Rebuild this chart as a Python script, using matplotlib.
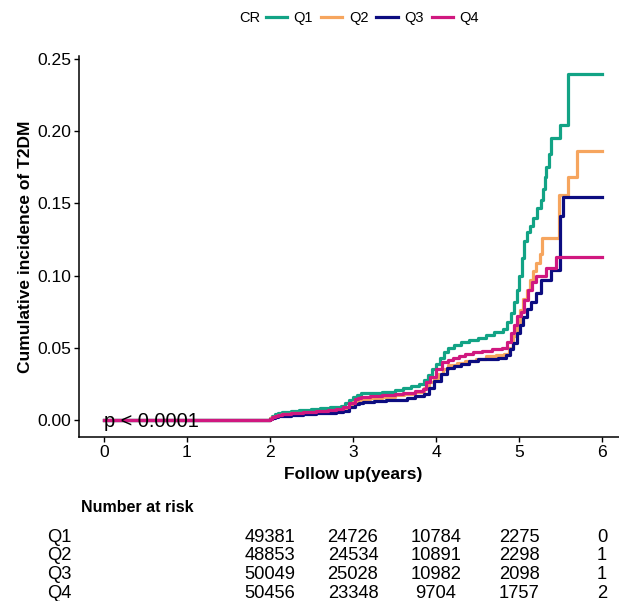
import matplotlib
matplotlib.use('Agg')
import matplotlib.pyplot as plt
from matplotlib.lines import Line2D
from matplotlib.transforms import blended_transform_factory

plt.rcParams['font.family'] = ['Liberation Sans', 'DejaVu Sans']

groups = ['Q1', 'Q2', 'Q3', 'Q4']
colors = ['#12A385', '#F6A55E', '#0C0C80', '#D0187F']

q1_time = [0, 2.00, 2.03, 2.06, 2.10, 2.15, 2.25, 2.35, 2.50, 2.60, 2.72, 2.85, 2.90, 2.95, 3.00,
           3.05, 3.10, 3.20, 3.35, 3.50, 3.60, 3.70, 3.80, 3.86, 3.90, 3.95, 4.00, 4.05, 4.10,
           4.15, 4.22, 4.30, 4.40, 4.50, 4.60, 4.70, 4.81, 4.86, 4.90, 4.94, 4.97, 5.00, 5.03,
           5.06, 5.09, 5.13, 5.17, 5.22, 5.26, 5.29, 5.31, 5.33, 5.36, 5.38, 5.49, 5.59, 6.00]
q1_cuminc = [0, 0.0015, 0.003, 0.004, 0.0048, 0.0055, 0.006, 0.0068, 0.0075, 0.008, 0.009, 0.010,
             0.012, 0.014, 0.016, 0.0175, 0.0185, 0.019, 0.0195, 0.021, 0.022, 0.0235, 0.025,
             0.028, 0.031, 0.035, 0.039, 0.043, 0.047, 0.050, 0.052, 0.054, 0.0555, 0.057,
             0.059, 0.061, 0.063, 0.068, 0.074, 0.082, 0.090, 0.100, 0.112, 0.124, 0.130, 0.134,
             0.140, 0.147, 0.152, 0.160, 0.168, 0.175, 0.184, 0.195, 0.204, 0.2396, 0.2396]

q2_time = [0, 2.00, 2.03, 2.06, 2.10, 2.15, 2.25, 2.40, 2.55, 2.70, 2.80, 2.88, 2.95, 3.00, 3.05,
           3.10, 3.20, 3.35, 3.50, 3.62, 3.75, 3.85, 3.92, 3.97, 4.02, 4.08, 4.15, 4.25, 4.35,
           4.48, 4.60, 4.72, 4.82, 4.88, 4.93, 4.97, 5.01, 5.05, 5.09, 5.13, 5.17, 5.21, 5.25,
           5.28, 5.48, 5.59, 5.70, 6.00]
q2_cuminc = [0, 0.0012, 0.002, 0.003, 0.0035, 0.004, 0.0045, 0.005, 0.0058, 0.0065, 0.007,
             0.008, 0.011, 0.0125, 0.0135, 0.0145, 0.015, 0.016, 0.017, 0.018, 0.0195, 0.022,
             0.026, 0.029, 0.032, 0.035, 0.038, 0.0395, 0.041, 0.0425, 0.044, 0.045, 0.046,
             0.050, 0.058, 0.066, 0.076, 0.084, 0.090, 0.097, 0.103, 0.109, 0.115, 0.126, 0.156,
             0.1685, 0.1865, 0.1865]

q3_time = [0, 2.00, 2.03, 2.06, 2.10, 2.15, 2.25, 2.40, 2.55, 2.70, 2.80, 2.88, 2.95, 3.02, 3.07,
           3.12, 3.25, 3.40, 3.55, 3.65, 3.75, 3.85, 3.92, 3.98, 4.06, 4.13, 4.22, 4.30, 4.40,
           4.50, 4.62, 4.75, 4.84, 4.89, 4.93, 4.97, 5.01, 5.05, 5.10, 5.14, 5.20, 5.27, 5.39,
           5.49, 5.53, 6.00]
q3_cuminc = [0, 0.0008, 0.0015, 0.002, 0.0025, 0.003, 0.0035, 0.004, 0.0045, 0.005, 0.0055,
             0.0065, 0.009, 0.011, 0.012, 0.0125, 0.013, 0.0135, 0.014, 0.015, 0.0165, 0.018,
             0.022, 0.027, 0.032, 0.036, 0.0375, 0.039, 0.0405, 0.042, 0.0425, 0.043, 0.045,
             0.049, 0.053, 0.060, 0.066, 0.071, 0.077, 0.082, 0.088, 0.097, 0.104, 0.141,
             0.1547, 0.1547]

q4_time = [0, 2.00, 2.03, 2.06, 2.10, 2.15, 2.25, 2.40, 2.55, 2.70, 2.80, 2.88, 2.95, 3.02, 3.06,
           3.10, 3.20, 3.35, 3.50, 3.60, 3.75, 3.84, 3.88, 3.93, 4.00, 4.07, 4.14, 4.20, 4.28,
           4.35, 4.45, 4.55, 4.68, 4.80, 4.86, 4.90, 4.94, 4.98, 5.02, 5.06, 5.11, 5.16, 5.21,
           5.33, 5.45, 6.00]
q4_cuminc = [0, 0.001, 0.002, 0.003, 0.0035, 0.004, 0.0048, 0.0055, 0.006, 0.007, 0.0075, 0.009,
             0.012, 0.0145, 0.0155, 0.016, 0.0165, 0.017, 0.018, 0.0185, 0.020, 0.0215, 0.026,
             0.030, 0.035, 0.040, 0.0415, 0.043, 0.0445, 0.046, 0.047, 0.048, 0.049, 0.050,
             0.054, 0.060, 0.066, 0.072, 0.075, 0.083, 0.090, 0.0955, 0.100, 0.105, 0.1129,
             0.1129]

series_time = [q1_time, q2_time, q3_time, q4_time]
series_val = [q1_cuminc, q2_cuminc, q3_cuminc, q4_cuminc]

risk_times = [2, 3, 4, 5, 6]
risk_q1 = [49381, 24726, 10784, 2275, 0]
risk_q2 = [48853, 24534, 10891, 2298, 1]
risk_q3 = [50049, 25028, 10982, 2098, 1]
risk_q4 = [50456, 23348, 9704, 1757, 2]
risk_rows = [risk_q1, risk_q2, risk_q3, risk_q4]

x_ticks = [0, 1, 2, 3, 4, 5, 6]
y_ticks = [0.00, 0.05, 0.10, 0.15, 0.20, 0.25]

W, H = 619, 601
fig = plt.figure(figsize=(W / 100, H / 100), dpi=100)
ax = fig.add_axes([79 / W, (H - 437) / H, (627 - 79) / W, (437 - 56) / H])

handles = []
for t, v, c, g in zip(series_time, series_val, colors, groups):
    ax.step(t, v, where='post', color=c, lw=2.3, label=g)
    handles.append(Line2D([], [], color=c, lw=2.3))

ax.set_xlim(-0.3, 6.3)
ax.set_ylim(-0.0118, 0.252)
ax.set_xticks(x_ticks)
ax.set_xticklabels([str(x) for x in x_ticks])
ax.set_yticks(y_ticks)
ax.set_yticklabels(['%.2f' % y for y in y_ticks])
for s in ['top', 'right']:
    ax.spines[s].set_visible(False)
for s in ['left', 'bottom']:
    ax.spines[s].set_linewidth(1.1)
    ax.spines[s].set_color('black')
ax.tick_params(axis='both', length=3.8, width=1.0, color='black', labelsize=12.6,
               labelcolor='black', pad=2)

ax.set_xlabel('Follow up(years)', fontsize=12.5, fontweight='bold', labelpad=5)
ax.set_ylabel('Cumulative incidence of T2DM', fontsize=12.5, fontweight='bold', labelpad=3)

ax.text(0, 0, 'p < 0.0001', fontsize=14.4, ha='left', va='center_baseline', zorder=10)

# legend
ly = 1 - 18 / H
fig.legend(handles, groups, loc='center left', bbox_to_anchor=(266 / W, ly), ncol=4,
           frameon=False, fontsize=10.5, handlelength=1.45, handletextpad=0.45,
           columnspacing=0.55, borderpad=0, borderaxespad=0)
fig.text(260 / W, ly, 'CR', ha='right', va='center', fontsize=10.5)

# risk table
fig.text(81 / W, 1 - 507 / H, 'Number at risk', fontsize=11.5, fontweight='bold',
         ha='left', va='center')
trans = blended_transform_factory(ax.transData, fig.transFigure)
row_y = [537, 555.7, 574.3, 593]
for g, row, yy in zip(groups, risk_rows, row_y):
    fig.text(47 / W, 1 - yy / H, g, fontsize=13.2, ha='left', va='center')
    for t, n in zip(risk_times, row):
        ax.text(t, 1 - yy / H, str(n), transform=trans, fontsize=13.2, ha='center',
                va='center', clip_on=False)

fig.savefig('out.png', dpi=100)
